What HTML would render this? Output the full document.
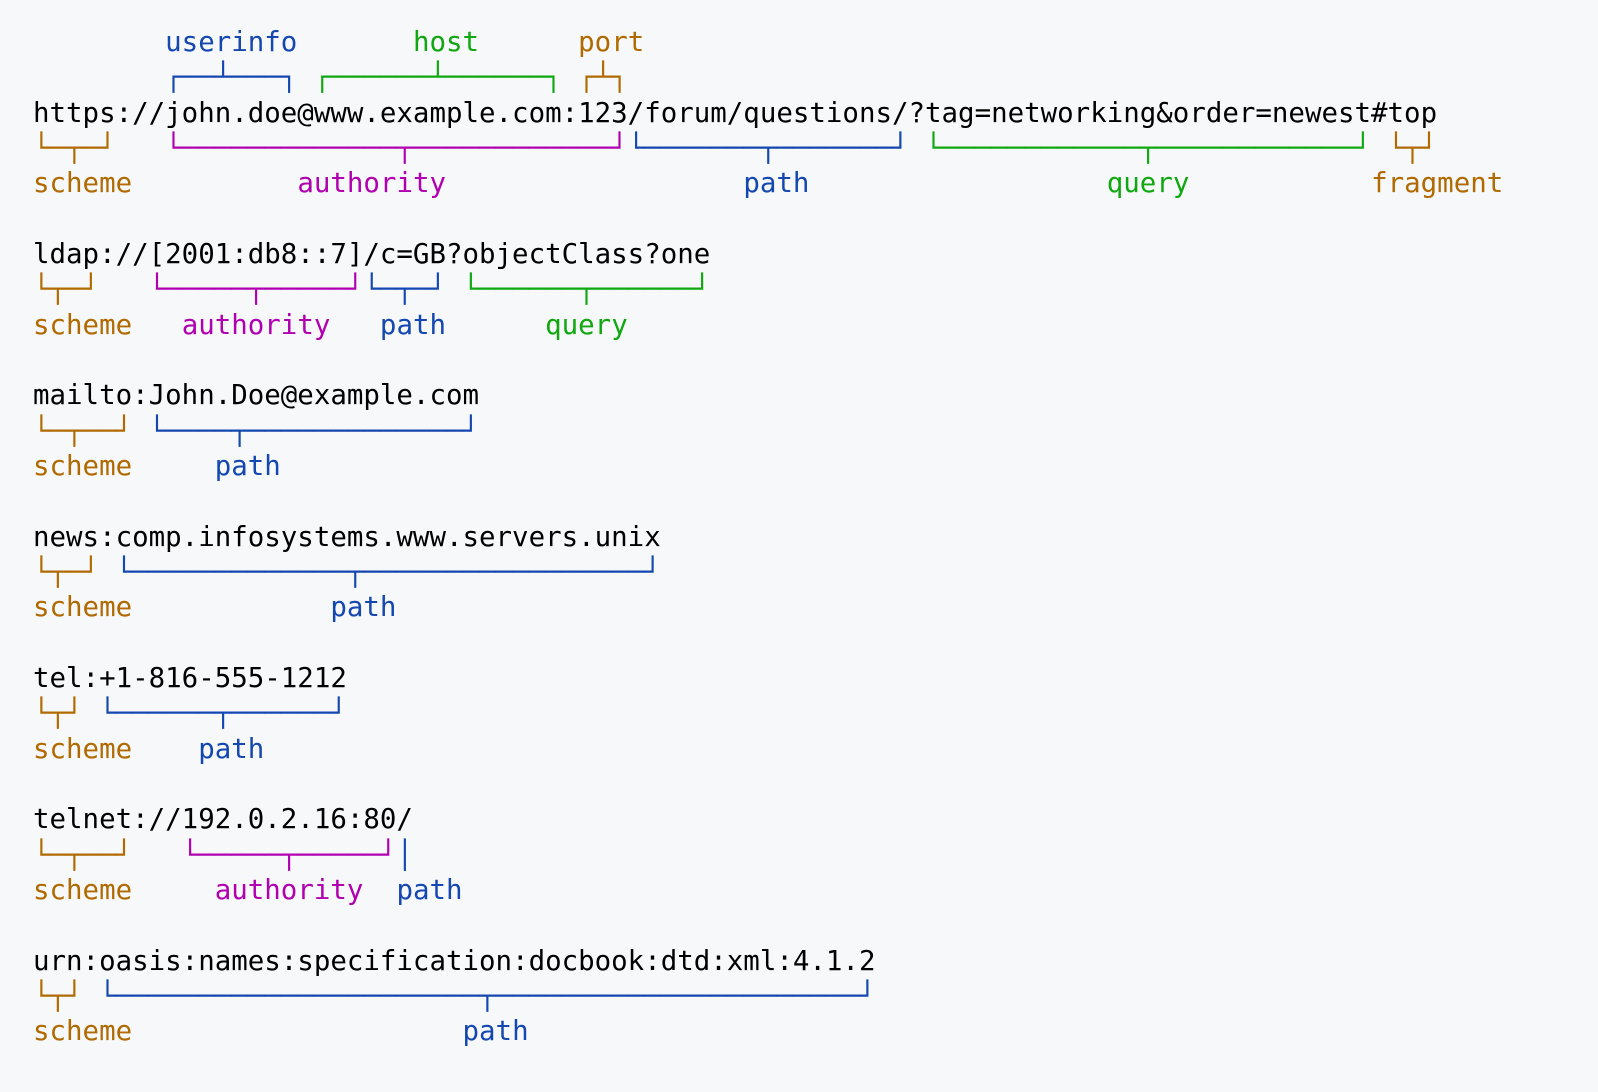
<!DOCTYPE html>
<html><head><meta charset="utf-8"><style>
html,body{margin:0;padding:0;background:#f7f8fa;width:1598px;height:1092px;overflow:hidden}
pre{position:absolute;left:33px;top:25px;margin:0;font-family:"DejaVu Sans Mono","Liberation Mono",monospace;font-size:27.45px;line-height:35.33px;color:#000;white-space:pre}
.s{color:#b06a00}.a{color:#b000b0}.p{color:#1448b0}.q{color:#10a810}
</style></head><body><pre>        <span class="p">userinfo</span>       <span class="q">host</span>      <span class="s">port</span>
        <span class="p">┌──┴───┐</span> <span class="q">┌──────┴──────┐</span> <span class="s">┌┴┐</span>
https://john.doe@www.example.com:123/forum/questions/?tag=networking&amp;order=newest#top
<span class="s">└─┬─┘</span>   <span class="a">└─────────────┬────────────┘</span><span class="p">└───────┬───────┘</span> <span class="q">└────────────┬────────────┘</span> <span class="s">└┬┘</span>
<span class="s">scheme</span>          <span class="a">authority</span>                  <span class="p">path</span>                  <span class="q">query</span>           <span class="s">fragment</span>

ldap://[2001:db8::7]/c=GB?objectClass?one
<span class="s">└┬─┘</span>   <span class="a">└─────┬─────┘</span><span class="p">└─┬─┘</span> <span class="q">└──────┬──────┘</span>
<span class="s">scheme</span>   <span class="a">authority</span>   <span class="p">path</span>      <span class="q">query</span>

mailto:John.Doe@example.com
<span class="s">└─┬──┘</span> <span class="p">└────┬─────────────┘</span>
<span class="s">scheme</span>     <span class="p">path</span>

news:comp.infosystems.www.servers.unix
<span class="s">└┬─┘</span> <span class="p">└─────────────┬─────────────────┘</span>
<span class="s">scheme</span>            <span class="p">path</span>

tel:+1-816-555-1212
<span class="s">└┬┘</span> <span class="p">└──────┬──────┘</span>
<span class="s">scheme</span>    <span class="p">path</span>

telnet://192.0.2.16:80/
<span class="s">└─┬──┘</span>   <span class="a">└─────┬─────┘</span><span class="p">│</span>
<span class="s">scheme</span>     <span class="a">authority</span>  <span class="p">path</span>

urn:oasis:names:specification:docbook:dtd:xml:4.1.2
<span class="s">└┬┘</span> <span class="p">└──────────────────────┬──────────────────────┘</span>
<span class="s">scheme</span>                    <span class="p">path</span></pre></body></html>
